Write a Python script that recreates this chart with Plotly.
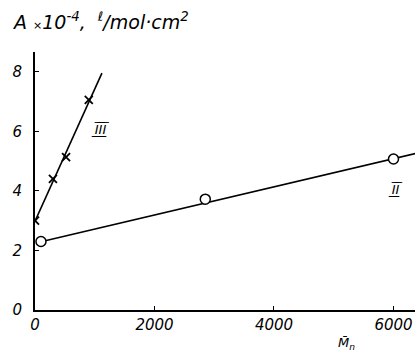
import plotly.graph_objects as go

# Series II (circles)
m_II = [100, 2850, 6000]
a_II = [2.3, 3.72, 5.07]
# Series II fitted line endpoints
line_II_x = [100, 6400]
line_II_y = [2.29, 5.27]

# Series III (crosses)
m_III = [0, 300, 520, 900]
a_III = [3.0, 4.4, 5.13, 7.05]
line_III_x = [0, 1120]
line_III_y = [2.98, 7.95]

x_ticks = [0, 2000, 4000, 6000]
y_ticks = [0, 2, 4, 6, 8]

FONT = "DejaVu Sans"

fig = go.Figure()
fig.add_trace(go.Scatter(x=line_II_x, y=line_II_y, mode="lines",
                         line=dict(color="black", width=1.6), showlegend=False))
fig.add_trace(go.Scatter(x=line_III_x, y=line_III_y, mode="lines",
                         line=dict(color="black", width=1.6), showlegend=False))
fig.add_trace(go.Scatter(x=m_II, y=a_II, mode="markers",
                         marker=dict(symbol="circle", size=10, color="white",
                                     line=dict(color="black", width=1.5)),
                         showlegend=False))
fig.add_trace(go.Scatter(x=m_III, y=a_III, mode="markers",
                         marker=dict(symbol="x-thin", size=8, color="black",
                                     line=dict(color="black", width=1.8)),
                         showlegend=False))

fig.update_layout(
    width=415, height=353,
    margin=dict(l=35, r=0, t=52, b=43),
    plot_bgcolor="white", paper_bgcolor="white",
    font=dict(family=FONT, color="black"),
    xaxis=dict(range=[0, 6360], tickvals=x_ticks, ticks="inside", ticklen=4,
               tickcolor="black", showline=True, linecolor="black", linewidth=2,
               showgrid=False, zeroline=False, automargin=False,
               tickfont=dict(size=15, style="italic", family=FONT)),
    yaxis=dict(range=[0, 8.66], tickvals=y_ticks, ticks="inside", ticklen=4,
               tickcolor="black", showline=True, linecolor="black", linewidth=2,
               showgrid=False, zeroline=False, ticklabelstandoff=8, automargin=False,
               tickfont=dict(size=15, style="italic", family=FONT)),
    annotations=[
        dict(xref="paper", yref="paper", x=-0.065, y=1.12, xanchor="left", yanchor="middle",
             showarrow=False,
             text="A <span style='font-size:11px'>×</span>10<sup>-4</sup>,  <sup>ℓ</sup>/mol·cm<sup>2</sup>",
             font=dict(size=19, style="italic", family=FONT)),
        dict(xref="paper", yref="paper", x=0.82, y=-0.09, xanchor="center", yanchor="top",
             showarrow=False, text="M̄<sub>n</sub>",
             font=dict(size=13, style="italic", family=FONT)),
        dict(x=1100, y=6.05, showarrow=False, text="I̲̅I̲̅I̲̅",
             font=dict(size=13, style="italic", family=FONT)),
        dict(x=6030, y=4.05, showarrow=False, text="I̲̅I̲̅",
             font=dict(size=13, style="italic", family=FONT)),
    ],
)

fig.write_html("out.html", config={"displayModeBar": False},
               post_script="document.body.style.margin='0';document.body.style.padding='0';")
